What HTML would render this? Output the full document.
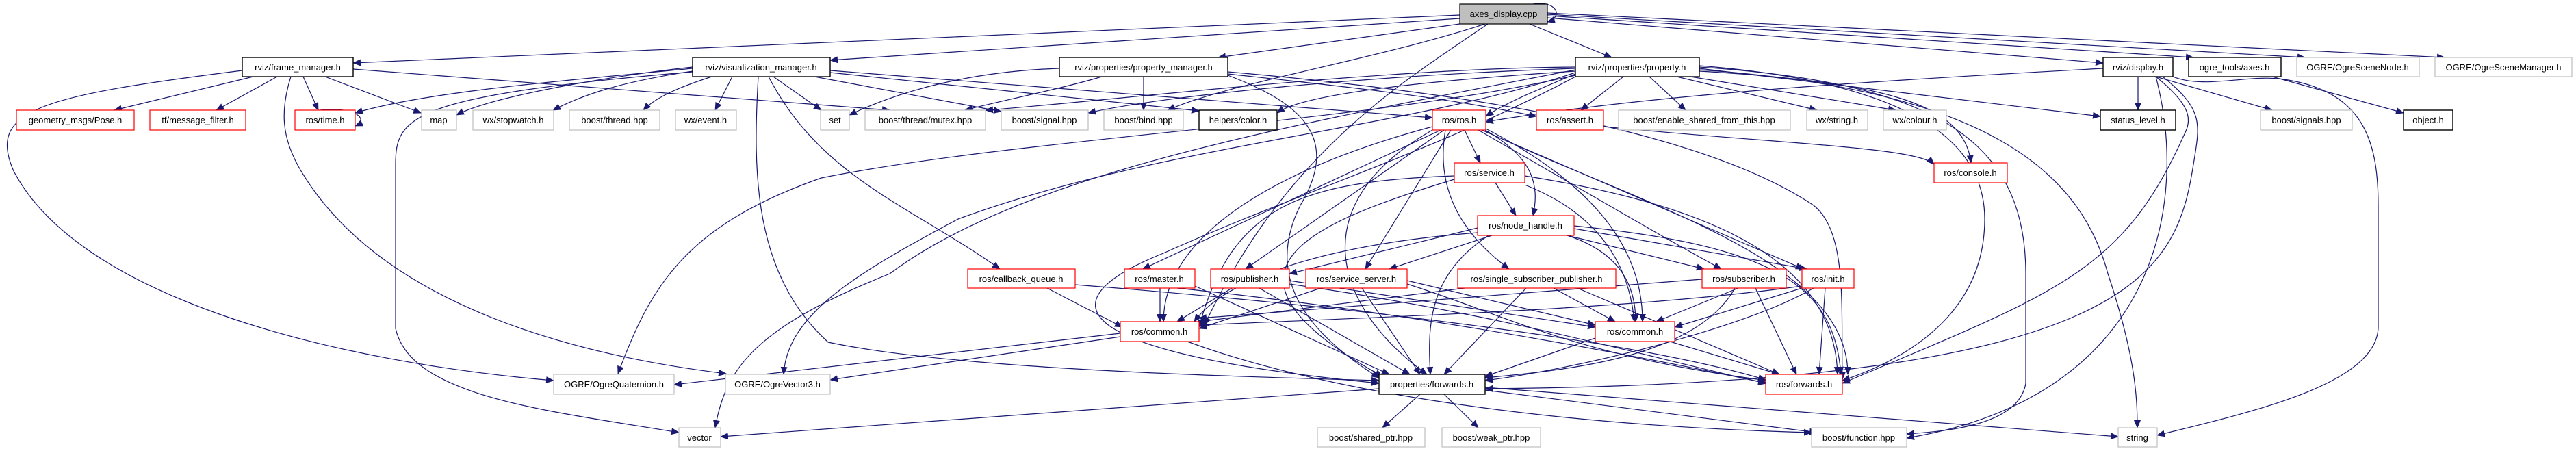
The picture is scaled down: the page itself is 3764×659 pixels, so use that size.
<!DOCTYPE html>
<html><head><meta charset="utf-8"><style>
html,body{margin:0;padding:0;background:#fff;width:3764px;height:659px;overflow:hidden}
svg text{font-family:"Liberation Sans",sans-serif;font-size:13px;fill:#000}
.e{fill:none;stroke:#191970;stroke-width:1.2}
.g{fill:#fff;stroke:#bfbfbf;stroke-width:1.2}
.r{fill:#fff;stroke:#ff0000;stroke-width:1.2}
.b{fill:#fff;stroke:#000;stroke-width:1.4}
</style></head><body>
<svg width="3764" height="659" viewBox="0 0 3764 659" xmlns="http://www.w3.org/2000/svg">
<defs><marker id="a" markerWidth="12" markerHeight="10" refX="11" refY="5" orient="auto" markerUnits="userSpaceOnUse"><path d="M0,0 L12,5 L0,10 z" fill="#191970"/></marker></defs>
<g class="e" marker-end="url(#a)">
<!-- axes_display -->
<path d="M2133,22 L516,92"/>
<path d="M2133,27 L1213,88"/>
<path d="M2140,34 L1780,84"/>
<path d="M2235,35 L2355,84"/>
<path d="M2261,26 L3073,92"/>
<path d="M2261,23 L3205,84"/>
<path d="M2261,21 L3368,84"/>
<path d="M2261,19 L3572,84"/>
<path d="M2170,35 C2000,90 1800,120 1706,161"/>
<path d="M2174,35 C2050,120 1880,220 1760,475"/>
<path d="M2240,6 C2275,0 2285,25 2261,32"/>
<!-- frame_manager -->
<path d="M370,112 L167,161"/>
<path d="M405,112 L316,161"/>
<path d="M443,112 L465,161"/>
<path d="M475,112 L615,165"/>
<path d="M354,103 C60,140 -20,160 20,250 C120,440 500,530 809,556"/>
<path d="M425,112 C410,160 410,200 440,250 C560,450 850,520 1061,546"/>
<path d="M516,101 L1300,161"/>
<!-- visualization_manager -->
<path d="M1012,100 C800,120 620,135 519,165"/>
<path d="M1012,98 C900,110 720,140 667,168"/>
<path d="M1025,102 C900,120 850,140 808,161"/>
<path d="M1040,112 C1000,125 960,140 940,161"/>
<path d="M1070,112 L1045,161"/>
<path d="M1130,112 L1200,161"/>
<path d="M1190,112 L1463,163"/>
<path d="M1213,106 L1752,162"/>
<path d="M1213,103 L2093,172"/>
<path d="M1123,112 C1200,260 1330,300 1461,393"/>
<path d="M1012,105 C600,140 578,170 578,240 L578,480 C600,580 800,600 992,632"/>
<path d="M1108,112 C1100,250 1100,400 1210,500 C1400,540 1800,550 2015,556"/>
<!-- property_manager -->
<path d="M1548,100 C1400,105 1300,140 1241,168"/>
<path d="M1610,112 C1550,130 1450,150 1410,161"/>
<path d="M1671,112 L1671,161"/>
<path d="M1794,108 C1950,125 2100,140 2245,170"/>
<path d="M1794,105 C2200,140 2500,200 2650,300 C2700,340 2690,450 2692,555"/>
<path d="M1794,110 C1900,150 1960,200 1900,300 C1850,400 1900,480 2015,552"/>
<!-- property.h -->
<path d="M2302,100 C2000,110 1700,140 1590,165"/>
<path d="M2302,104 C2050,120 1900,140 1866,165"/>
<path d="M2302,98 C2000,100 1600,150 1440,161"/>
<path d="M2302,108 C2250,130 2200,150 2171,170"/>
<path d="M2372,112 L2310,161"/>
<path d="M2410,112 L2463,161"/>
<path d="M2450,112 L2655,161"/>
<path d="M2470,112 L2770,161"/>
<path d="M2483,104 C2750,120 2870,150 2880,238"/>
<path d="M2483,100 L3069,170"/>
<path d="M2483,102 C2900,130 3040,250 3080,400 C3120,520 3123,580 3123,625"/>
<path d="M2483,98 C2820,120 2960,200 2960,400 L2960,560 C2950,620 2850,630 2786,634"/>
<path d="M2483,96 C2780,120 2900,200 2900,320 C2900,450 2800,520 2692,556"/>
<path d="M2302,110 C2000,180 1500,200 1200,260 C1000,330 950,420 903,546"/>
<path d="M2302,106 C2050,190 1700,210 1400,320 C1250,400 1150,460 1145,547"/>
<path d="M2302,102 C1900,180 1500,250 1300,400 C1100,480 1060,540 1045,625"/>
<path d="M2302,112 C2100,220 1900,280 1700,370 C1500,450 1600,520 2015,560"/>
<!-- ros.h -->
<path d="M2140,190 L2163,238"/>
<path d="M2170,190 C2240,230 2250,270 2240,315"/>
<path d="M2120,190 L1995,393"/>
<path d="M2112,190 C2100,260 2120,330 2205,393"/>
<path d="M2160,190 C2300,270 2400,330 2515,393"/>
<path d="M2165,190 L2635,393"/>
<path d="M2105,190 L1670,393"/>
<path d="M2110,190 L1820,393"/>
<path d="M2171,188 C2350,280 2400,380 2400,470"/>
<path d="M2093,185 C1850,250 1700,350 1700,470"/>
<path d="M2171,192 C2400,300 2700,380 2700,547"/>
<path d="M2093,190 C1900,300 1950,450 2085,547"/>
<!-- service.h -->
<path d="M2185,267 L2215,315"/>
<path d="M2228,270 C2330,310 2380,380 2388,470"/>
<path d="M2228,257 C2500,300 2680,380 2685,547"/>
<path d="M2125,257 C1900,265 1800,300 1752,478"/>
<path d="M2125,262 C1900,330 1750,400 2020,550"/>
<!-- node_handle -->
<path d="M2159,333 L1884,400"/>
<path d="M2180,344 L2030,393"/>
<path d="M2290,344 L2490,393"/>
<path d="M2300,334 L2640,393"/>
<path d="M2290,344 C2370,370 2390,420 2390,470"/>
<path d="M2300,330 C2600,360 2680,420 2690,547"/>
<path d="M2175,344 C2090,400 2085,470 2090,547"/>
<path d="M2159,340 C1900,360 1780,420 1745,470"/>
<!-- row5 -->
<path d="M1530,421 L1640,478"/>
<path d="M1571,416 C2000,450 2400,500 2580,555"/>
<path d="M1695,421 L1695,470"/>
<path d="M1746,418 L2030,547"/>
<path d="M1720,421 C2000,450 2300,500 2582,560"/>
<path d="M1800,421 L1720,470"/>
<path d="M1840,421 L2060,547"/>
<path d="M1884,410 L2331,478"/>
<path d="M1884,415 C2200,460 2400,520 2580,560"/>
<path d="M1930,421 L1752,480"/>
<path d="M1990,421 L2075,547"/>
<path d="M2056,410 L2331,475"/>
<path d="M2056,415 C2200,460 2300,520 2582,556"/>
<path d="M2140,421 L1752,470"/>
<path d="M2230,421 L2110,547"/>
<path d="M2270,421 L2360,470"/>
<path d="M2305,421 L2600,547"/>
<path d="M2487,408 L1752,465"/>
<path d="M2540,421 L2420,470"/>
<path d="M2535,421 C2480,520 2300,540 2170,552"/>
<path d="M2565,421 L2625,547"/>
<path d="M2633,421 L2447,478"/>
<path d="M2650,421 C2550,480 2300,540 2170,556"/>
<path d="M2667,421 L2658,547"/>
<path d="M2633,418 C2400,450 2100,460 1752,475"/>
<!-- commons -->
<path d="M1637,487 L985,562"/>
<path d="M1637,492 L1213,555"/>
<path d="M1735,499 C1900,560 2200,620 2647,632"/>
<path d="M2331,494 L2170,550"/>
<path d="M2440,499 L2600,547"/>
<!-- properties/forwards -->
<path d="M2015,568 L1053,638"/>
<path d="M2075,576 L2020,625"/>
<path d="M2110,576 L2160,625"/>
<path d="M2170,570 L2655,632"/>
<path d="M2170,566 L3095,638"/>
<!-- misc -->
<path d="M2343,185 C2600,210 2800,215 2826,240"/>
<path d="M3124,112 L3124,161"/>
<path d="M3150,112 L3320,161"/>
<path d="M3150,112 C3210,160 3200,180 3190,200 C3100,400 3000,430 2692,560"/>
<path d="M3160,112 C3220,160 3215,180 3205,240 C3180,400 3120,560 2170,568"/>
<path d="M3073,100 C2700,120 2400,140 2171,178"/>
<path d="M3175,112 C3220,130 3280,110 3330,115 C3450,130 3475,200 3475,300 L3475,480 C3470,560 3300,600 3152,636"/>
<path d="M3320,112 L3512,165"/>
<path d="M3150,112 C3200,300 3150,580 2786,640"/>
<path d="M467,161 C520,155 540,175 519,184"/>
</g>
<!-- nodes -->
<g>
<rect x="2133" y="6" width="128" height="29" fill="#bfbfbf" stroke="#000" stroke-width="1.2"/><text x="2197" y="25" text-anchor="middle">axes_display.cpp</text>
<rect class="b" x="354" y="84" width="162" height="28"/><text x="435" y="103" text-anchor="middle">rviz/frame_manager.h</text>
<rect class="b" x="1012" y="84" width="201" height="28"/><text x="1112" y="103" text-anchor="middle">rviz/visualization_manager.h</text>
<rect class="b" x="1548" y="84" width="246" height="28"/><text x="1671" y="103" text-anchor="middle">rviz/properties/property_manager.h</text>
<rect class="b" x="2302" y="84" width="181" height="28"/><text x="2392" y="103" text-anchor="middle">rviz/properties/property.h</text>
<rect class="b" x="3073" y="84" width="102" height="28"/><text x="3124" y="103" text-anchor="middle">rviz/display.h</text>
<rect class="b" x="3198" y="84" width="135" height="28"/><text x="3265" y="103" text-anchor="middle">ogre_tools/axes.h</text>
<rect class="g" x="3356" y="84" width="179" height="28"/><text x="3445" y="103" text-anchor="middle">OGRE/OgreSceneNode.h</text>
<rect class="g" x="3558" y="84" width="200" height="28"/><text x="3658" y="103" text-anchor="middle">OGRE/OgreSceneManager.h</text>

<rect class="r" x="24" y="161" width="172" height="29"/><text x="110" y="180" text-anchor="middle">geometry_msgs/Pose.h</text>
<rect class="r" x="219" y="161" width="140" height="29"/><text x="289" y="180" text-anchor="middle">tf/message_filter.h</text>
<rect class="r" x="431" y="161" width="88" height="29"/><text x="475" y="180" text-anchor="middle">ros/time.h</text>
<rect class="g" x="616" y="161" width="51" height="29"/><text x="641" y="180" text-anchor="middle">map</text>
<rect class="g" x="691" y="161" width="118" height="29"/><text x="750" y="180" text-anchor="middle">wx/stopwatch.h</text>
<rect class="g" x="832" y="161" width="132" height="29"/><text x="898" y="180" text-anchor="middle">boost/thread.hpp</text>
<rect class="g" x="987" y="161" width="89" height="29"/><text x="1031" y="180" text-anchor="middle">wx/event.h</text>
<rect class="g" x="1199" y="161" width="42" height="29"/><text x="1220" y="180" text-anchor="middle">set</text>
<rect class="g" x="1264" y="161" width="176" height="29"/><text x="1352" y="180" text-anchor="middle">boost/thread/mutex.hpp</text>
<rect class="g" x="1463" y="161" width="127" height="29"/><text x="1526" y="180" text-anchor="middle">boost/signal.hpp</text>
<rect class="g" x="1613" y="161" width="116" height="29"/><text x="1671" y="180" text-anchor="middle">boost/bind.hpp</text>
<rect class="b" x="1752" y="161" width="114" height="29"/><text x="1809" y="180" text-anchor="middle">helpers/color.h</text>
<rect class="r" x="2093" y="161" width="78" height="29"/><text x="2132" y="180" text-anchor="middle">ros/ros.h</text>
<rect class="r" x="2245" y="161" width="98" height="29"/><text x="2294" y="180" text-anchor="middle">ros/assert.h</text>
<rect class="g" x="2365" y="161" width="251" height="29"/><text x="2490" y="180" text-anchor="middle">boost/enable_shared_from_this.hpp</text>
<rect class="g" x="2640" y="161" width="89" height="29"/><text x="2684" y="180" text-anchor="middle">wx/string.h</text>
<rect class="g" x="2752" y="161" width="92" height="29"/><text x="2798" y="180" text-anchor="middle">wx/colour.h</text>
<rect class="b" x="3069" y="161" width="110" height="29"/><text x="3124" y="180" text-anchor="middle">status_level.h</text>
<rect class="g" x="3303" y="161" width="134" height="29"/><text x="3370" y="180" text-anchor="middle">boost/signals.hpp</text>
<rect class="b" x="3512" y="161" width="72" height="29"/><text x="3548" y="180" text-anchor="middle">object.h</text>

<rect class="r" x="2125" y="238" width="103" height="29"/><text x="2176" y="257" text-anchor="middle">ros/service.h</text>
<rect class="r" x="2826" y="238" width="107" height="29"/><text x="2879" y="257" text-anchor="middle">ros/console.h</text>
<rect class="r" x="2159" y="315" width="141" height="29"/><text x="2229" y="334" text-anchor="middle">ros/node_handle.h</text>

<rect class="r" x="1414" y="393" width="157" height="28"/><text x="1492" y="412" text-anchor="middle">ros/callback_queue.h</text>
<rect class="r" x="1643" y="393" width="103" height="28"/><text x="1694" y="412" text-anchor="middle">ros/master.h</text>
<rect class="r" x="1769" y="393" width="115" height="28"/><text x="1826" y="412" text-anchor="middle">ros/publisher.h</text>
<rect class="r" x="1908" y="393" width="148" height="28"/><text x="1982" y="412" text-anchor="middle">ros/service_server.h</text>
<rect class="r" x="2130" y="393" width="231" height="28"/><text x="2245" y="412" text-anchor="middle">ros/single_subscriber_publisher.h</text>
<rect class="r" x="2487" y="393" width="123" height="28"/><text x="2548" y="412" text-anchor="middle">ros/subscriber.h</text>
<rect class="r" x="2633" y="393" width="76" height="28"/><text x="2671" y="412" text-anchor="middle">ros/init.h</text>

<rect class="r" x="1637" y="470" width="115" height="29"/><text x="1694" y="489" text-anchor="middle">ros/common.h</text>
<rect class="r" x="2331" y="470" width="116" height="29"/><text x="2389" y="489" text-anchor="middle">ros/common.h</text>

<rect class="g" x="809" y="547" width="176" height="29"/><text x="897" y="566" text-anchor="middle">OGRE/OgreQuaternion.h</text>
<rect class="g" x="1060" y="547" width="153" height="29"/><text x="1136" y="566" text-anchor="middle">OGRE/OgreVector3.h</text>
<rect class="b" x="2015" y="547" width="155" height="29"/><text x="2092" y="566" text-anchor="middle">properties/forwards.h</text>
<rect class="r" x="2580" y="547" width="112" height="29"/><text x="2636" y="566" text-anchor="middle">ros/forwards.h</text>

<rect class="g" x="992" y="625" width="61" height="28"/><text x="1022" y="644" text-anchor="middle">vector</text>
<rect class="g" x="1925" y="625" width="157" height="28"/><text x="2003" y="644" text-anchor="middle">boost/shared_ptr.hpp</text>
<rect class="g" x="2107" y="625" width="144" height="28"/><text x="2179" y="644" text-anchor="middle">boost/weak_ptr.hpp</text>
<rect class="g" x="2647" y="625" width="139" height="28"/><text x="2716" y="644" text-anchor="middle">boost/function.hpp</text>
<rect class="g" x="3095" y="625" width="57" height="28"/><text x="3123" y="644" text-anchor="middle">string</text>
</g>
</svg>
</body></html>
